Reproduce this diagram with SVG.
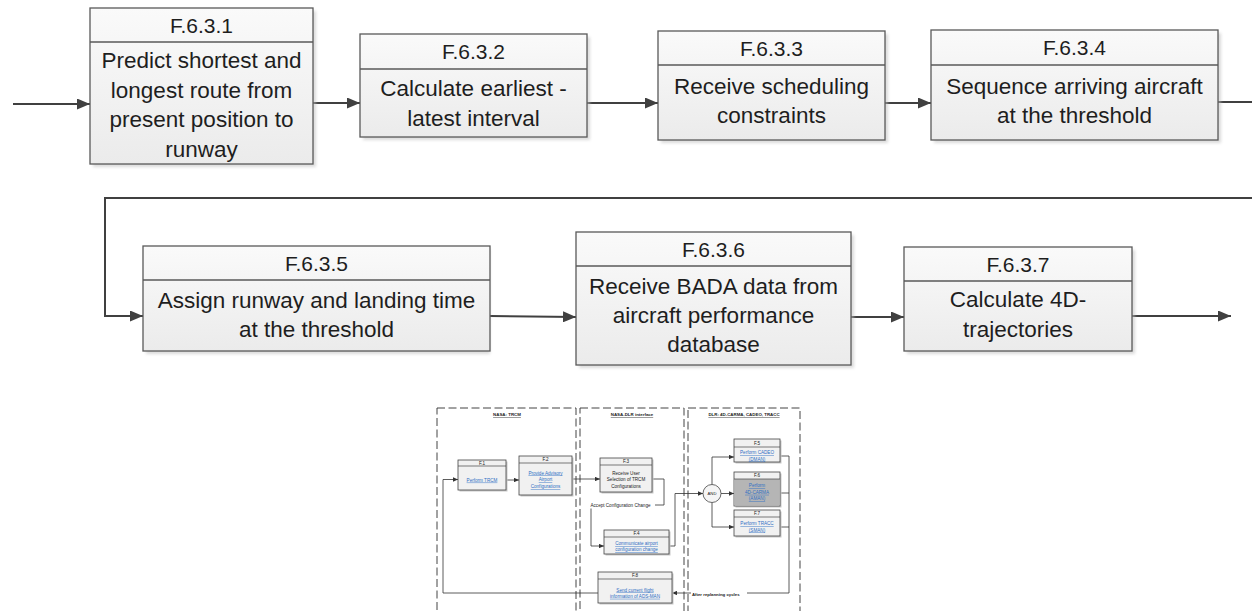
<svg xmlns="http://www.w3.org/2000/svg" width="1252" height="611" viewBox="0 0 1252 611">
<defs>
<linearGradient id="g" x1="0" y1="0" x2="0" y2="1">
<stop offset="0" stop-color="#fafafa"/>
<stop offset="1" stop-color="#ebebeb"/>
</linearGradient>
<filter id="blur" x="-10%" y="-10%" width="130%" height="130%"><feGaussianBlur stdDeviation="1.5"/></filter>
<marker id="a" markerUnits="userSpaceOnUse" markerWidth="13" markerHeight="11" refX="13" refY="5.5" orient="auto">
<path d="M0,0 L13,5.5 L0,11 z" fill="#404040"/>
</marker>
<marker id="sa" markerUnits="userSpaceOnUse" markerWidth="5" markerHeight="4.4" refX="5" refY="2.2" orient="auto">
<path d="M0,0 L5,2.2 L0,4.4 z" fill="#333"/>
</marker>
<style>
.box{fill:url(#g);stroke:#595959;stroke-width:1.3}
.sh{fill:#bdbdbd;opacity:.55;filter:url(#blur)}
.dv{stroke:#595959;stroke-width:1.3}
.t{font-family:"Liberation Sans",Arial,sans-serif;font-size:22.5px;fill:#1e1e1e;text-anchor:middle}
.h{font-size:21px}
.c{stroke:#404040;stroke-width:2;fill:none;marker-end:url(#a)}
.lane{fill:none;stroke:#444;stroke-width:1;stroke-dasharray:8 3.5}
.sb{fill:#f1f1f1;stroke:#444;stroke-width:.8}
.ssh{fill:#c8c8c8}
.sd{stroke:#444;stroke-width:.7}
.st{font-family:"Liberation Sans",Arial,sans-serif;font-size:4.6px;fill:#222;text-anchor:middle}
.lk{fill:#2f6fc4;text-decoration:underline}
.tt{font-weight:bold;text-decoration:underline;font-size:4.4px}
.sc{stroke:#333;stroke-width:.8;fill:none;marker-end:url(#sa)}
.sl{stroke:#333;stroke-width:.8;fill:none}
</style>
</defs>

<g id="connectors">
<path class="c" d="M13,104 H90"/>
<path class="c" d="M313,103 H360"/>
<path class="c" d="M587,103 H658"/>
<path class="c" d="M885,103 H931"/>
<path class="c" d="M1218,102 H1262 V198 H105 V316 H143"/>
<path class="c" d="M490,316 L576,317"/>
<path class="c" d="M851,317 H904"/>
<path class="c" d="M1132,316 H1231"/>
</g>

<g id="n1">
<rect class="sh" x="93" y="11" width="223" height="156"/>
<rect class="box" x="90" y="8" width="223" height="156"/>
<line class="dv" x1="90" y1="42" x2="313" y2="42"/>
<text class="t h" x="201.5" y="33">F.6.3.1</text>
<text class="t" x="201.5" y="68">Predict shortest and</text>
<text class="t" x="201.5" y="97.5">longest route from</text>
<text class="t" x="201.5" y="127">present position to</text>
<text class="t" x="201.5" y="156.5">runway</text>
</g>

<g id="n2">
<rect class="sh" x="363" y="37" width="227" height="103"/>
<rect class="box" x="360" y="34" width="227" height="103"/>
<line class="dv" x1="360" y1="69" x2="587" y2="69"/>
<text class="t h" x="473.5" y="59">F.6.3.2</text>
<text class="t" x="473.5" y="96">Calculate earliest -</text>
<text class="t" x="473.5" y="126">latest interval</text>
</g>

<g id="n3">
<rect class="sh" x="661" y="34" width="227" height="109"/>
<rect class="box" x="658" y="31" width="227" height="109"/>
<line class="dv" x1="658" y1="65" x2="885" y2="65"/>
<text class="t h" x="771.5" y="55.5">F.6.3.3</text>
<text class="t" x="771.5" y="93.5">Receive scheduling</text>
<text class="t" x="771.5" y="122.5">constraints</text>
</g>

<g id="n4">
<rect class="sh" x="934" y="33" width="287" height="110"/>
<rect class="box" x="931" y="30" width="287" height="110"/>
<line class="dv" x1="931" y1="65" x2="1218" y2="65"/>
<text class="t h" x="1074.5" y="55">F.6.3.4</text>
<text class="t" x="1074.5" y="93.5">Sequence arriving aircraft</text>
<text class="t" x="1074.5" y="122.5">at the threshold</text>
</g>

<g id="n5">
<rect class="sh" x="146" y="249" width="344" height="105"/>
<rect class="box" x="143" y="246" width="347" height="105"/>
<line class="dv" x1="143" y1="280" x2="490" y2="280"/>
<text class="t h" x="316.5" y="271">F.6.3.5</text>
<text class="t" x="316.5" y="308">Assign runway and landing time</text>
<text class="t" x="316.5" y="337">at the threshold</text>
</g>

<g id="n6">
<rect class="sh" x="579" y="235" width="275" height="133"/>
<rect class="box" x="576" y="232" width="275" height="133"/>
<line class="dv" x1="576" y1="266" x2="851" y2="266"/>
<text class="t h" x="713.5" y="257">F.6.3.6</text>
<text class="t" x="713.5" y="294">Receive BADA data from</text>
<text class="t" x="713.5" y="323">aircraft performance</text>
<text class="t" x="713.5" y="352">database</text>
</g>

<g id="n7">
<rect class="sh" x="907" y="250" width="228" height="104"/>
<rect class="box" x="904" y="247" width="228" height="104"/>
<line class="dv" x1="904" y1="281" x2="1132" y2="281"/>
<text class="t h" x="1018" y="272">F.6.3.7</text>
<text class="t" x="1018" y="307">Calculate 4D-</text>
<text class="t" x="1018" y="337">trajectories</text>
</g>

<g id="lanes">
<rect class="lane" x="437" y="408" width="139" height="215"/>
<rect class="lane" x="580" y="408" width="104" height="215"/>
<rect class="lane" x="688" y="408" width="112" height="215"/>
<text class="st tt" x="507" y="416">NASA: TRCM</text>
<text class="st tt" x="632" y="416">NASA-DLR interface</text>
<text class="st tt" x="744" y="416">DLR: 4D-CARMA, CADEO, TRACC</text>
</g>

<g id="small-connectors">
<path class="sc" d="M598,593 H443 V479.5 H458"/>
<path class="sc" d="M506,480 H519"/>
<path class="sc" d="M572,479 H600"/>
<path class="sc" d="M652,479 H664 V505 H591 V546 H604"/>
<path class="sc" d="M669,546 H675 V493.5 H703"/>
<path class="sc" d="M712,484.5 V457 H734"/>
<path class="sc" d="M721,493.5 H734"/>
<path class="sc" d="M712,502.5 V527 H734"/>
<path class="sl" d="M780,456 H789"/>
<path class="sl" d="M780,493 H789"/>
<path class="sl" d="M780,527 H789"/>
<path class="sc" d="M789,456 V593 H672"/>
<rect x="586" y="502.5" width="69" height="6" fill="#fff"/>
<text class="st" x="620.5" y="507.3">Accept Configuration Change</text>
<rect x="691" y="591.5" width="56" height="6" fill="#fff"/>
<text class="st" x="692" y="596.3" style="text-anchor:start;font-weight:bold;font-size:4.3px">After replanning cycles</text>
</g>

<g id="sF1">
<rect class="ssh" x="459.5" y="461.5" width="48" height="30"/>
<rect class="sb" x="458" y="460" width="48" height="30"/>
<line class="sd" x1="458" y1="466" x2="506" y2="466"/>
<text class="st" x="482" y="464.6">F.1</text>
<text class="st lk" x="482" y="481.6">Perform TRCM</text>
</g>

<g id="sF2">
<rect class="ssh" x="520.5" y="457.5" width="53" height="39"/>
<rect class="sb" x="519" y="456" width="53" height="39"/>
<line class="sd" x1="519" y1="463" x2="572" y2="463"/>
<text class="st" x="545.5" y="461.3">F.2</text>
<text class="st lk" x="545.5" y="474.5">Provide Advisory</text>
<text class="st lk" x="545.5" y="481.3">Airport</text>
<text class="st lk" x="545.5" y="488.1">Configurations</text>
</g>

<g id="sF3">
<rect class="ssh" x="601.5" y="459.5" width="52" height="34"/>
<rect class="sb" x="600" y="458" width="52" height="34"/>
<line class="sd" x1="600" y1="465" x2="652" y2="465"/>
<text class="st" x="626" y="463.3">F.3</text>
<text class="st" x="626" y="474.5">Receive User</text>
<text class="st" x="626" y="481.3">Selection of TRCM</text>
<text class="st" x="626" y="488.1">Configurations</text>
</g>

<g id="sF4">
<rect class="ssh" x="605.5" y="531.5" width="65" height="24"/>
<rect class="sb" x="604" y="530" width="65" height="24"/>
<line class="sd" x1="604" y1="537" x2="669" y2="537"/>
<text class="st" x="636.5" y="535.3">F.4</text>
<text class="st lk" x="636.5" y="545">Communicate airport</text>
<text class="st lk" x="636.5" y="551">configuration change</text>
</g>

<g id="sAND">
<circle cx="712" cy="493.5" r="9" fill="#f5f5f5" stroke="#444" stroke-width=".8"/>
<text class="st" x="712" y="495.2" style="font-size:4.2px">AND</text>
</g>

<g id="sF5">
<rect class="ssh" x="735.5" y="440.5" width="46" height="23"/>
<rect class="sb" x="734" y="439" width="46" height="23"/>
<line class="sd" x1="734" y1="447" x2="780" y2="447"/>
<text class="st" x="757" y="444.8">F.5</text>
<text class="st lk" x="757" y="454.2">Perform CADEO</text>
<text class="st lk" x="757" y="460.6">(DMAN)</text>
</g>

<g id="sF6">
<rect class="ssh" x="735.5" y="473.5" width="46" height="34"/>
<rect class="sb" x="734" y="472" width="46" height="34"/>
<rect x="734.4" y="479" width="45.2" height="26.6" fill="#b5b5b5"/>
<line class="sd" x1="734" y1="479" x2="780" y2="479"/>
<text class="st" x="757" y="477.3">F.6</text>
<text class="st lk" x="757" y="487.3">Perform</text>
<text class="st lk" x="757" y="493.8">4D-CARMA</text>
<text class="st lk" x="757" y="500.3">(AMAN)</text>
</g>

<g id="sF7">
<rect class="ssh" x="735.5" y="511.5" width="46" height="26"/>
<rect class="sb" x="734" y="510" width="46" height="26"/>
<line class="sd" x1="734" y1="517" x2="780" y2="517"/>
<text class="st" x="757" y="515.3">F.7</text>
<text class="st lk" x="757" y="525">Perform TRACC</text>
<text class="st lk" x="757" y="531.5">(SMAN)</text>
</g>

<g id="sF8">
<rect class="ssh" x="599.5" y="573.5" width="74" height="31"/>
<rect class="sb" x="598" y="572" width="74" height="31"/>
<line class="sd" x1="598" y1="579" x2="672" y2="579"/>
<text class="st" x="635" y="577.3">F.8</text>
<text class="st lk" x="635" y="591.5">Send current flight</text>
<text class="st lk" x="635" y="597.8">information of ADS-MAN</text>
</g>
</svg>
